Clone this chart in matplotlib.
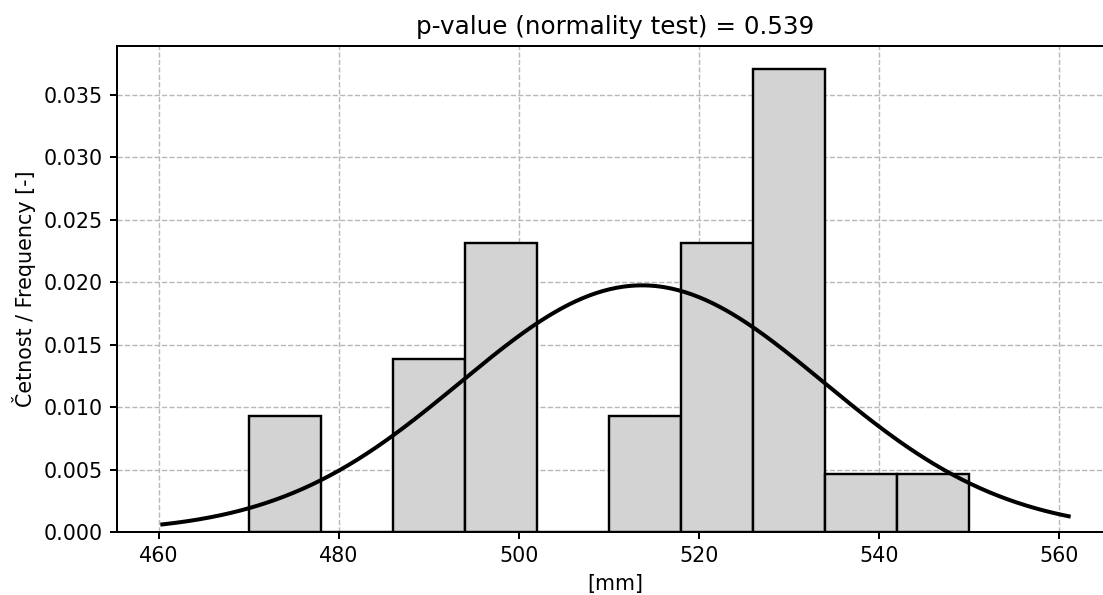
import numpy as np
import matplotlib
matplotlib.use("Agg")
import matplotlib.pyplot as plt

# Histogram data (density values per bin)
bin_edges = [470, 478, 486, 494, 502, 510, 518, 526, 534, 542, 550]
densities = [0.00926, 0.0, 0.01389, 0.02315, 0.0, 0.00926, 0.02315, 0.03704, 0.00463, 0.00463]

# Fitted normal curve parameters
mu = 513.7
sigma = 20.2
curve_start = 460.4
curve_end = 561.1

title = "p-value (normality test) = 0.539"
xlabel = "[mm]"
ylabel = "Četnost / Frequency [-]"

DPI = 144
fig = plt.figure(figsize=(1103 / DPI, 595 / DPI), dpi=DPI)
ax = fig.add_axes([117/1103, 63/595, 997/1103, 485.7/595])

edges = np.array(bin_edges)
ax.bar(edges[:-1], densities, width=np.diff(edges), align="edge",
       facecolor="lightgray", edgecolor="black", linewidth=1.2, zorder=2)

xs = np.linspace(curve_start, curve_end, 400)
ys = np.exp(-0.5 * ((xs - mu) / sigma) ** 2) / (sigma * np.sqrt(2 * np.pi))
ax.plot(xs, ys, color="black", linewidth=2.0, zorder=3)

ax.set_axisbelow(True)
ax.grid(True, linestyle="--", color="#b8b8b8", linewidth=0.7)
ax.set_title(title, fontsize=12.3)
ax.set_xlabel(xlabel, fontsize=10.3)
ax.set_ylabel(ylabel, fontsize=10.3)
ax.tick_params(labelsize=10.3, width=1.0)
for s in ax.spines.values():
    s.set_linewidth(1.0)
ax.set_xticks([460, 480, 500, 520, 540, 560])
ax.set_yticks([0, 0.005, 0.01, 0.015, 0.02, 0.025, 0.03, 0.035])
ax.yaxis.set_major_formatter(matplotlib.ticker.FormatStrFormatter("%.3f"))

fig.savefig("out.png", dpi=DPI)
